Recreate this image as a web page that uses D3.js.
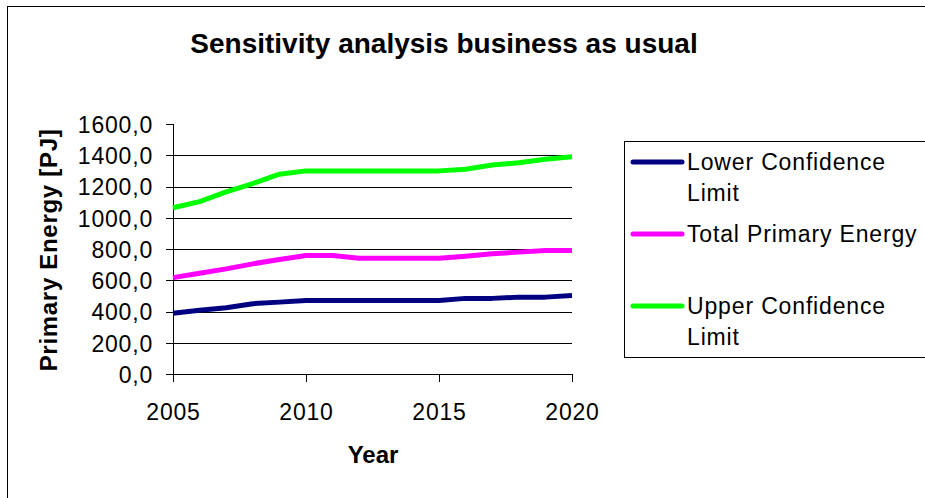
<!DOCTYPE html>
<html><head><meta charset="utf-8">
<script src="https://cdn.jsdelivr.net/npm/d3@7"></script>
<style>
body{margin:0;background:#fff;}
text{font-family:"Liberation Sans",Arial,sans-serif;fill:#000;}
</style></head>
<body><svg id="c" width="925" height="498"></svg>
<script>
const years = [2005,2006,2007,2008,2009,2010,2011,2012,2013,2014,2015,2016,2017,2018,2019,2020];
const lowerLimit = [389,408,424,450,460,471,471,471,471,471,471,484,484,492,492,503];
const totalEnergy = [617,645,673,705,733,758,758,741,741,741,741,754,769,780,790,790];
const upperLimit = [1064,1103,1165,1219,1279,1300,1300,1300,1300,1300,1300,1311,1337,1352,1375,1390];
const seriesNames = ["Lower Confidence|Limit","Total Primary Energy","Upper Confidence|Limit"];
const seriesColors = ["#000080","#ff00ff","#00ff00"];
const yTicks = [0,200,400,600,800,1000,1200,1400,1600];
const xTicks = [2005,2010,2015,2020];
const title = "Sensitivity analysis business as usual";
const yTitle = "Primary Energy [PJ]";
const xTitle = "Year";

const svg = d3.select("#c");
svg.append("rect").attr("x",7.5).attr("y",6.5).attr("width",1000).attr("height",1000)
  .attr("fill","#fff").attr("stroke","#000").attr("stroke-width",1);

const L=173,R=572,T=124,B=374;
const x = d3.scaleLinear().domain([2005,2020]).range([L,R]);
const y = d3.scaleLinear().domain([0,1600]).range([B,T]);

// gridlines
svg.append("g").attr("transform",`translate(${L},0)`)
  .call(d3.axisLeft(y).tickValues(yTicks.filter(v=>v>0&&v<1600)).tickSize(-(R-L)).tickFormat(""))
  .call(g=>g.select(".domain").remove())
  .call(g=>g.selectAll("line").attr("stroke","#000").attr("shape-rendering","crispEdges"));

// y axis
const ya = svg.append("g").attr("transform",`translate(${L},0)`)
  .call(d3.axisLeft(y).tickValues(yTicks).tickSize(7).tickPadding(13)
    .tickFormat(d=>d.toFixed(1).replace(".",",")));
ya.select(".domain").attr("d",`M0,${T}V${B+8}`);
ya.selectAll("line,path").attr("stroke","#000").attr("shape-rendering","crispEdges");
ya.selectAll("text").attr("font-size",23).style("letter-spacing","0.8px")
  .attr("font-family","Liberation Sans, Arial, sans-serif").attr("dy","0.36em");

// x axis
const xa = svg.append("g").attr("transform",`translate(0,${B})`)
  .call(d3.axisBottom(x).tickValues(xTicks).tickSize(8).tickPadding(0).tickFormat(d3.format("d")));
xa.select(".domain").attr("d",`M${L-7},0H${R}`);
xa.selectAll("line,path").attr("stroke","#000").attr("shape-rendering","crispEdges");
xa.selectAll("text").attr("font-size",23).style("letter-spacing","0.8px")
  .attr("font-family","Liberation Sans, Arial, sans-serif").attr("y",46).attr("dy",0);

// lines
const seriesData = [lowerLimit,totalEnergy,upperLimit];
const line = d3.line().x((d,i)=>x(years[i])).y(d=>y(d));
seriesData.forEach((s,i)=>{
  svg.append("path").datum(s).attr("d",line).attr("fill","none")
    .attr("stroke",seriesColors[i]).attr("stroke-width",5)
    .attr("stroke-linejoin","round").attr("stroke-linecap","butt");
});

// titles
svg.append("text").attr("x",444).attr("y",52.5).attr("text-anchor","middle")
  .attr("font-size",28).attr("font-weight","bold").text(title);
svg.append("text").attr("transform","translate(57,250) rotate(-90)").attr("text-anchor","middle")
  .attr("font-size",24).attr("font-weight","bold").style("letter-spacing","0.7px").text(yTitle);
svg.append("text").attr("x",373).attr("y",463).attr("text-anchor","middle")
  .attr("font-size",24).attr("font-weight","bold").text(xTitle);

// legend
svg.append("rect").attr("x",624.5).attr("y",141.5).attr("width",400).attr("height",216)
  .attr("fill","#fff").attr("stroke","#000").attr("stroke-width",1);
const legY = [162,234,306];
seriesNames.forEach((n,i)=>{
  svg.append("line").attr("x1",633).attr("x2",682).attr("y1",legY[i]).attr("y2",legY[i])
    .attr("stroke",seriesColors[i]).attr("stroke-width",5).attr("stroke-linecap","round");
  const t = svg.append("text").attr("x",687).attr("y",legY[i]+8).attr("font-size",23)
    .style("letter-spacing","0.85px");
  n.split("|").forEach((p,j)=>{
    t.append("tspan").attr("x",687).attr("dy",j?31:0).text(p);
  });
});
</script></body></html>
